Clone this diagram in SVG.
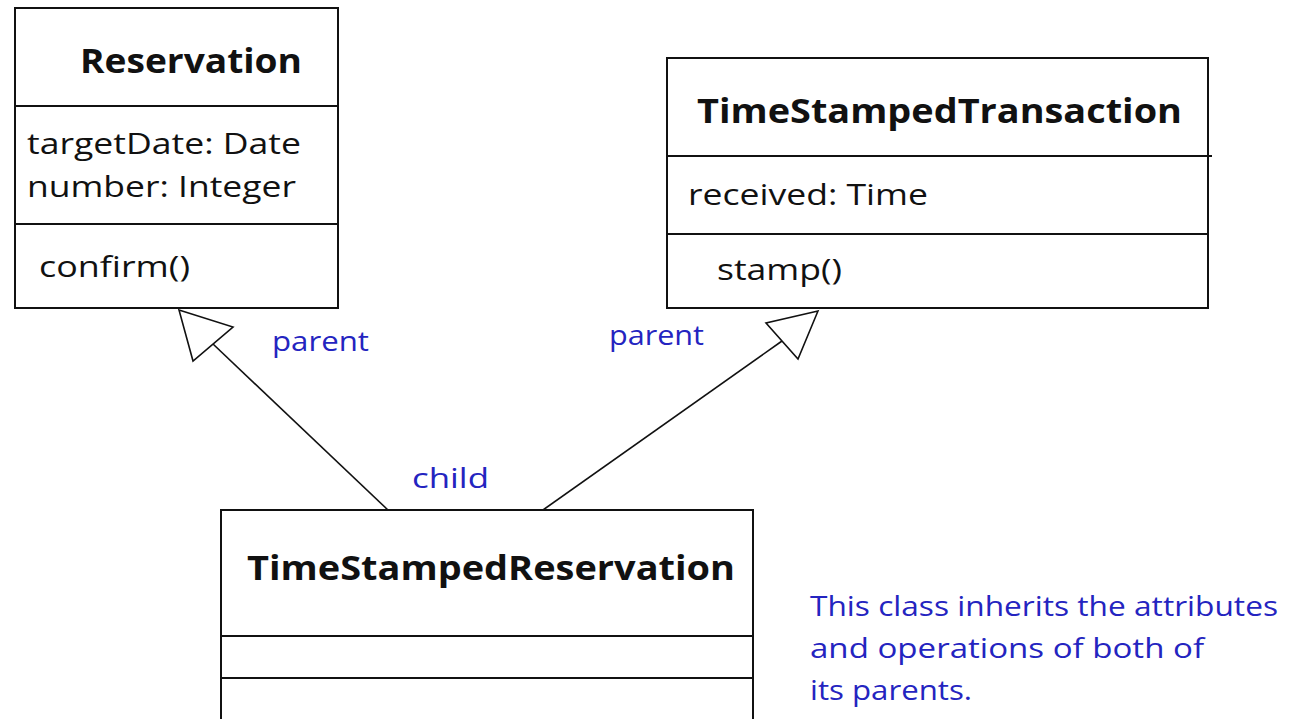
<svg xmlns="http://www.w3.org/2000/svg" width="1292" height="719" viewBox="0 0 1292 719">
<style>
.box{fill:#fff;stroke:#111;stroke-width:2}
.div{stroke:#111;stroke-width:2}
.title{font-family:"Open Sans","Liberation Sans",sans-serif;font-weight:bold;font-size:34px;fill:#111}
.attr{font-family:"Open Sans","Liberation Sans",sans-serif;font-size:29px;fill:#111}
.lbl{font-family:"Open Sans","Liberation Sans",sans-serif;font-size:28px;fill:#2424c0}
.conn{stroke:#111;stroke-width:1.6;fill:none}
.head{fill:#fff;stroke:#111;stroke-width:1.6}
</style>
<rect width="1292" height="719" fill="#fff"/>
<g id="connectors">
<line class="conn" x1="388" y1="510" x2="213" y2="344"/>
<polygon class="head" points="179,310 233,327 193,361"/>
<line class="conn" x1="543" y1="510" x2="782" y2="341"/>
<polygon class="head" points="818,311 766,323 798,359"/>
<text class="lbl" x="272" y="351" textLength="97" lengthAdjust="spacingAndGlyphs">parent</text>
<text class="lbl" x="609" y="345" textLength="95" lengthAdjust="spacingAndGlyphs">parent</text>
<text class="lbl" x="412" y="488" textLength="77" lengthAdjust="spacingAndGlyphs">child</text>
</g>
<g id="Reservation">
<rect class="box" x="15" y="8" width="323" height="300"/>
<line class="div" x1="15" y1="106" x2="338" y2="106"/>
<line class="div" x1="15" y1="224" x2="338" y2="224"/>
<text class="title" x="80" y="73" textLength="222" lengthAdjust="spacingAndGlyphs">Reservation</text>
<text class="attr" x="27" y="154" textLength="274" lengthAdjust="spacingAndGlyphs">targetDate: Date</text>
<text class="attr" x="27" y="197" textLength="269" lengthAdjust="spacingAndGlyphs">number: Integer</text>
<text class="attr" x="39" y="277" textLength="151" lengthAdjust="spacingAndGlyphs">confirm()</text>
</g>
<g id="TimeStampedTransaction">
<rect class="box" x="667" y="58" width="541" height="250"/>
<line class="div" x1="667" y1="156" x2="1212" y2="156"/>
<line class="div" x1="667" y1="234" x2="1208" y2="234"/>
<text class="title" x="697" y="123" textLength="485" lengthAdjust="spacingAndGlyphs">TimeStampedTransaction</text>
<text class="attr" x="688" y="205" textLength="240" lengthAdjust="spacingAndGlyphs">received: Time</text>
<text class="attr" x="717" y="280" textLength="125" lengthAdjust="spacingAndGlyphs">stamp()</text>
</g>
<g id="TimeStampedReservation">
<rect class="box" x="221" y="510" width="532" height="215"/>
<line class="div" x1="221" y1="636" x2="753" y2="636"/>
<line class="div" x1="221" y1="678" x2="753" y2="678"/>
<text class="title" x="247" y="580" textLength="488" lengthAdjust="spacingAndGlyphs">TimeStampedReservation</text>
</g>
<g id="note">
<text class="lbl" x="810" y="616" textLength="468" lengthAdjust="spacingAndGlyphs">This class inherits the attributes</text>
<text class="lbl" x="810" y="658" textLength="394" lengthAdjust="spacingAndGlyphs">and operations of both of</text>
<text class="lbl" x="810" y="700" textLength="162" lengthAdjust="spacingAndGlyphs">its parents.</text>
</g>
</svg>
